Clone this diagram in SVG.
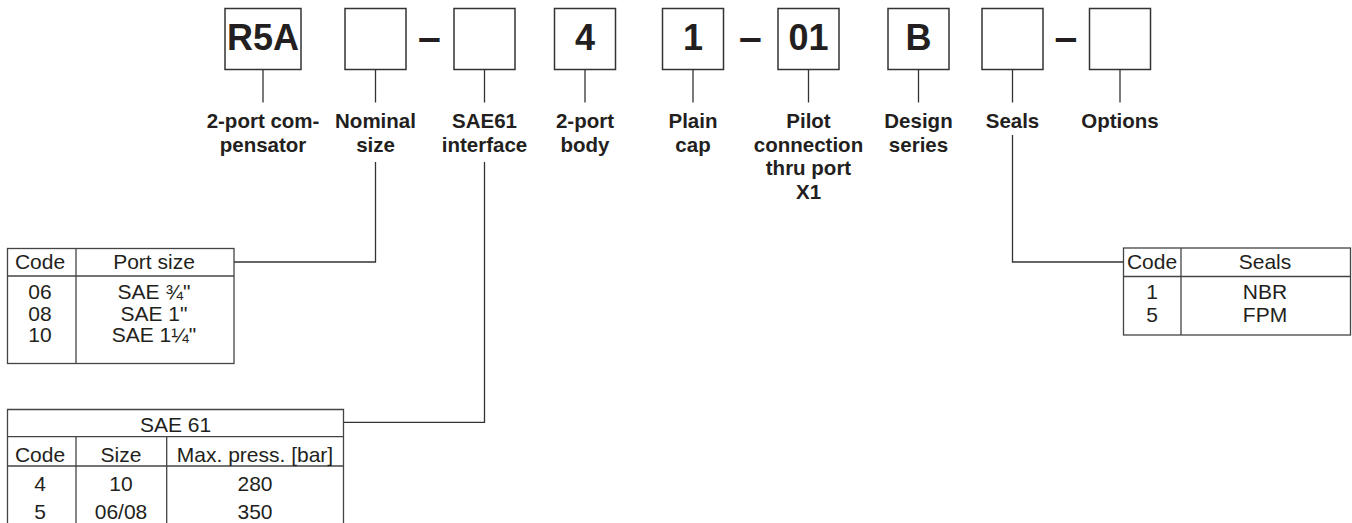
<svg xmlns="http://www.w3.org/2000/svg" width="1352" height="523" viewBox="0 0 1352 523">
<style>
.box{fill:#fff;stroke:#333;stroke-width:1.5}
.code{font-family:"Liberation Sans",Arial,sans-serif;font-weight:bold;font-size:36px;fill:#231f20;text-anchor:middle}
.dash{font-family:"Liberation Sans",Arial,sans-serif;font-weight:bold;font-size:41px;fill:#231f20;text-anchor:middle}
.lbl{font-family:"Liberation Sans",Arial,sans-serif;font-weight:bold;font-size:20.5px;fill:#231f20;text-anchor:middle}
.tb{fill:none;stroke:#444;stroke-width:1.3}
.tl{stroke:#444;stroke-width:1.3;fill:none}
.tt{font-family:"Liberation Sans",Arial,sans-serif;font-size:21px;fill:#231f20;text-anchor:middle}
.con{stroke:#333;stroke-width:1.3;fill:none}
</style>
<rect width="1352" height="523" fill="#fff"/>

<g id="node-r5a"><rect class="box" x="225" y="8.5" width="76" height="61"/><text class="code" x="263" y="50">R5A</text></g>
<g id="node-nominal"><rect class="box" x="345" y="8.5" width="61" height="61"/></g>
<text class="dash" x="429.5" y="50.5">–</text>
<g id="node-sae61"><rect class="box" x="454" y="8.5" width="61" height="61"/></g>
<g id="node-body"><rect class="box" x="554.5" y="8.5" width="61" height="61"/><text class="code" x="585" y="50">4</text></g>
<g id="node-cap"><rect class="box" x="662.5" y="8.5" width="61" height="61"/><text class="code" x="693" y="50">1</text></g>
<text class="dash" x="750.5" y="50.5">–</text>
<g id="node-pilot"><rect class="box" x="778" y="8.5" width="61" height="61"/><text class="code" x="808.5" y="50">01</text></g>
<g id="node-series"><rect class="box" x="888" y="8.5" width="61" height="61"/><text class="code" x="918.5" y="50">B</text></g>
<g id="node-seals"><rect class="box" x="982" y="8.5" width="61" height="61"/></g>
<text class="dash" x="1066" y="50.5">–</text>
<g id="node-options"><rect class="box" x="1089.5" y="8.5" width="61" height="61"/></g>

<g id="labels">
<g id="label-compensator"><text class="lbl" x="263" y="128">2-port com-</text><text class="lbl" x="263" y="151.5">pensator</text></g>
<g id="label-nominal"><text class="lbl" x="375.5" y="128">Nominal</text><text class="lbl" x="375.5" y="151.5">size</text></g>
<g id="label-sae61"><text class="lbl" x="484.5" y="128">SAE61</text><text class="lbl" x="484.5" y="151.5">interface</text></g>
<g id="label-body"><text class="lbl" x="585" y="128">2-port</text><text class="lbl" x="585" y="151.5">body</text></g>
<g id="label-cap"><text class="lbl" x="693" y="128">Plain</text><text class="lbl" x="693" y="151.5">cap</text></g>
<g id="label-pilot"><text class="lbl" x="808.5" y="128">Pilot</text><text class="lbl" x="808.5" y="151.5">connection</text><text class="lbl" x="808.5" y="175">thru port</text><text class="lbl" x="808.5" y="198.5">X1</text></g>
<g id="label-series"><text class="lbl" x="918.5" y="128">Design</text><text class="lbl" x="918.5" y="151.5">series</text></g>
<g id="label-seals"><text class="lbl" x="1012.5" y="128">Seals</text></g>
<g id="label-options"><text class="lbl" x="1120" y="128">Options</text></g>
</g>

<g id="table-port-size">
<rect class="tb" x="7.5" y="248.5" width="226.5" height="115"/>
<line class="tl" x1="76" y1="248.5" x2="76" y2="363.5"/>
<line class="tl" x1="7.5" y1="276" x2="234" y2="276"/>
<text class="tt" x="40" y="268.5">Code</text><text class="tt" x="154" y="268.5">Port size</text>
<text class="tt" x="40" y="299">06</text><text class="tt" x="154" y="299">SAE ¾"</text>
<text class="tt" x="40" y="320.5">08</text><text class="tt" x="154" y="320.5">SAE 1"</text>
<text class="tt" x="40" y="342">10</text><text class="tt" x="154" y="342">SAE 1¼"</text>
</g>

<g id="table-sae61">
<path class="tl" d="M7.5,523 V409.5 H343.5 V523"/>
<line class="tl" x1="7.5" y1="436.7" x2="343.5" y2="436.7"/>
<line class="tl" x1="7.5" y1="466" x2="343.5" y2="466"/>
<line class="tl" x1="76" y1="436.7" x2="76" y2="523"/>
<line class="tl" x1="166.7" y1="436.7" x2="166.7" y2="523"/>
<text class="tt" x="175.5" y="432">SAE 61</text>
<text class="tt" x="40" y="461.5">Code</text><text class="tt" x="121" y="461.5">Size</text><text class="tt" x="255" y="461.5">Max. press. [bar]</text>
<text class="tt" x="40" y="490.5">4</text><text class="tt" x="121" y="490.5">10</text><text class="tt" x="255" y="490.5">280</text>
<text class="tt" x="40" y="518.5">5</text><text class="tt" x="121" y="518.5">06/08</text><text class="tt" x="255" y="518.5">350</text>
</g>

<g id="table-seals">
<rect class="tb" x="1123.5" y="248" width="227" height="87"/>
<line class="tl" x1="1181" y1="248" x2="1181" y2="335"/>
<line class="tl" x1="1123.5" y1="276.5" x2="1350.5" y2="276.5"/>
<text class="tt" x="1152" y="268.5">Code</text><text class="tt" x="1265" y="268.5">Seals</text>
<text class="tt" x="1152" y="299">1</text><text class="tt" x="1265" y="299">NBR</text>
<text class="tt" x="1152" y="321.5">5</text><text class="tt" x="1265" y="321.5">FPM</text>
</g>

<g id="connectors">
<line class="con" x1="263" y1="69.5" x2="263" y2="102.5"/>
<line class="con" x1="375.5" y1="69.5" x2="375.5" y2="102.5"/>
<line class="con" x1="484.5" y1="69.5" x2="484.5" y2="102.5"/>
<line class="con" x1="585" y1="69.5" x2="585" y2="102.5"/>
<line class="con" x1="693" y1="69.5" x2="693" y2="102.5"/>
<line class="con" x1="808.5" y1="69.5" x2="808.5" y2="102.5"/>
<line class="con" x1="918.5" y1="69.5" x2="918.5" y2="102.5"/>
<line class="con" x1="1012.5" y1="69.5" x2="1012.5" y2="102.5"/>
<line class="con" x1="1120" y1="69.5" x2="1120" y2="102.5"/>
<path class="con" d="M375.5,162 V262 H234"/>
<path class="con" d="M484.5,162 V422.3 H343.5"/>
<path class="con" d="M1012.5,135 V262 H1123.5"/>
</g>
</svg>
